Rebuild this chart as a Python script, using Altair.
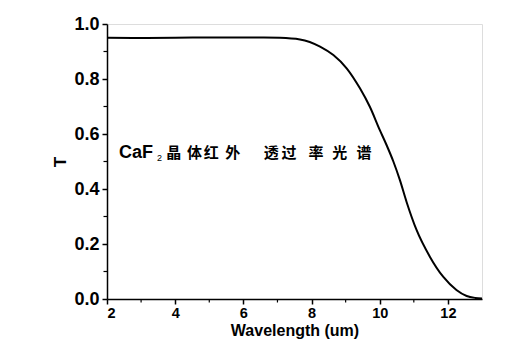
import altair as alt
import pandas as pd

# Curve values
wavelength = [2.0, 3.0, 4.0, 5.0, 6.0, 6.6, 7.07, 7.66, 8.25, 8.64, 9.03, 9.42, 9.71,
              10.0, 10.2, 10.4, 10.59, 10.79, 11.08, 11.47, 11.86, 12.25, 12.55, 12.8, 13.0]
transmit = [0.950, 0.949, 0.950, 0.951, 0.951, 0.951, 0.950, 0.944, 0.918, 0.887, 0.839,
            0.766, 0.699, 0.615, 0.560, 0.500, 0.433, 0.352, 0.251, 0.154, 0.081, 0.033,
            0.011, 0.004, 0.002]

x_ticks = [2, 4, 6, 8, 10, 12]
y_ticks = [0.0, 0.2, 0.4, 0.6, 0.8, 1.0]
x_minor = [3, 5, 7, 9, 11]
y_minor = [0.1, 0.3, 0.5, 0.7, 0.9]

# Annotation text (anchored in data units)
title_main = "CaF"
title_sub = "2"
cn_chars = ["晶", "体", "红", "外", "透", "过", "率", "光", "谱"]
cn_x = [3.96, 4.57, 5.06, 5.69, 6.82, 7.34, 8.13, 8.83, 9.54]

df = pd.DataFrame({"wl": wavelength, "T": transmit})

xscale = alt.Scale(domain=[2, 13], nice=False, zero=False)
yscale = alt.Scale(domain=[0, 1.0], nice=False)

FONT = "Liberation Sans"

line = alt.Chart(df).mark_line(color="black", strokeWidth=2, interpolate="monotone").encode(
    x=alt.X("wl:Q", scale=xscale,
            axis=alt.Axis(title="Wavelength (um)", values=x_ticks, format="d",
                          labelFont=FONT, labelFontSize=14.5, labelFontWeight="bold",
                          labelColor="black", titleFont=FONT, titleFontSize=16,
                          titleFontWeight="bold", titleColor="black", titlePadding=3,
                          domainColor="black", domainWidth=1.5, tickColor="black",
                          tickWidth=1.5, tickSize=5, labelPadding=2, grid=False)),
    y=alt.Y("T:Q", scale=yscale,
            axis=alt.Axis(title="T", values=y_ticks, format=".1f",
                          labelFont=FONT, labelFontSize=18, labelFontWeight="bold",
                          labelColor="black", titleFont=FONT, titleFontSize=17,
                          titleFontWeight="bold", titleColor="black", titlePadding=4,
                          domainColor="black", domainWidth=1.5, tickColor="black",
                          tickWidth=1.5, tickSize=5, labelPadding=3, grid=False)),
)

xminor = alt.Chart(pd.DataFrame({"m": x_minor})).mark_rule(color="black", strokeWidth=1.2).encode(
    x=alt.X("m:Q", scale=xscale), y=alt.value(275), y2=alt.value(278.5))
yminor = alt.Chart(pd.DataFrame({"m": y_minor})).mark_rule(color="black", strokeWidth=1.2).encode(
    y=alt.Y("m:Q", scale=yscale), x=alt.value(0), x2=alt.value(-3.5))

ann_df = pd.DataFrame({"x": [2.35], "y": [0.513], "t": [title_main]})
ann = alt.Chart(ann_df).mark_text(font=FONT, fontSize=18, fontWeight="bold", color="black",
                                  align="left", baseline="alphabetic").encode(
    x=alt.X("x:Q", scale=xscale), y=alt.Y("y:Q", scale=yscale), text="t:N")
sub_df = pd.DataFrame({"x": [3.47], "y": [0.502], "t": [title_sub]})
sub = alt.Chart(sub_df).mark_text(font=FONT, fontSize=9, color="black",
                                  align="left", baseline="alphabetic").encode(
    x=alt.X("x:Q", scale=xscale), y=alt.Y("y:Q", scale=yscale), text="t:N")
cn_df = pd.DataFrame({"x": cn_x, "y": [0.531] * len(cn_x), "t": cn_chars})
cn = alt.Chart(cn_df).mark_text(font="Noto Sans CJK SC", fontSize=15, fontWeight="bold",
                                color="black", align="center", baseline="middle").encode(
    x=alt.X("x:Q", scale=xscale), y=alt.Y("y:Q", scale=yscale), text="t:N")

chart = alt.layer(line, xminor, yminor, ann, sub, cn).properties(
    width=375, height=275,
    autosize=alt.AutoSizeParams(type="none"),
    padding={"left": 107, "top": 24, "right": 30, "bottom": 54},
).configure_view(stroke=None).configure(background="white")

chart.save("out.html", embed_options={"renderer": "svg", "actions": False})
